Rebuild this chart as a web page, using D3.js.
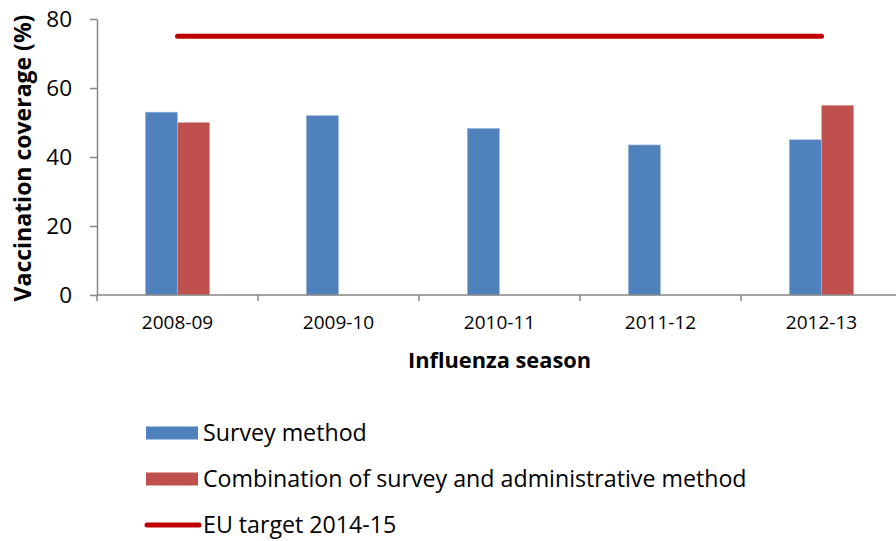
<!DOCTYPE html>
<html>
<head>
<meta charset="utf-8">
<script src="https://cdn.jsdelivr.net/npm/d3@7"></script>
<style>
  html, body { margin: 0; padding: 0; background: #fff; }
  svg { display: block; font-family: "Open Sans", Lato, sans-serif; }
</style>
</head>
<body>
<svg id="chart" width="896" height="541"></svg>
<script>
// Influenza vaccination coverage by season
const seasons = ["2008-09", "2009-10", "2010-11", "2011-12", "2012-13"];
const surveyMethod = [53, 52, 48.3, 43.5, 45];
const combinedMethod = [50, null, null, null, 55];
const euTarget = 75;
const yTicks = [0, 20, 40, 60, 80];
const seriesNames = ["Survey method", "Combination of survey and administrative method", "EU target 2014-15"];
const seriesColors = ["#4F81BD", "#C0504D", "#C00000"];

const svg = d3.select("#chart");
const plot = { left: 97, right: 902, top: 19, bottom: 295 };

const x = d3.scaleBand().domain(seasons).range([plot.left, plot.right]).paddingInner(0).paddingOuter(0);
const inner = d3.scaleBand().domain([0, 1]).range([0, x.bandwidth()]).paddingInner(0).paddingOuter(1.5);
const y = d3.scaleLinear().domain([0, 80]).range([plot.bottom, plot.top]);

const axisColor = "#868686";

// bars
const seriesData = [surveyMethod, combinedMethod];
seriesData.forEach((vals, si) => {
  svg.append("g").selectAll("rect")
    .data(seasons.map((s, i) => ({ s, v: vals[i] })).filter(d => d.v != null))
    .join("rect")
    .attr("x", d => x(d.s) + inner(si))
    .attr("y", d => y(d.v))
    .attr("width", inner.bandwidth())
    .attr("height", d => y(0) - y(d.v))
    .attr("fill", seriesColors[si])
    .attr("stroke", si === 0 ? "#A7C0DE" : "#E0A9A7")
    .attr("stroke-width", 0.6);
});

// EU target line across category centres
const centre = s => x(s) + x.bandwidth() / 2;
svg.append("line")
  .attr("x1", centre(seasons[0]))
  .attr("x2", centre(seasons[seasons.length - 1]))
  .attr("y1", y(euTarget))
  .attr("y2", y(euTarget))
  .attr("stroke", seriesColors[2])
  .attr("stroke-width", 5)
  .attr("stroke-linecap", "round");

// y axis
const yAxis = svg.append("g")
  .attr("transform", `translate(${plot.left},0)`)
  .call(d3.axisLeft(y).tickValues(yTicks).tickSize(7).tickSizeOuter(0).tickPadding(18));
yAxis.select(".domain").attr("stroke", axisColor).attr("stroke-width", 1.5);
yAxis.selectAll(".tick line").attr("stroke", axisColor).attr("stroke-width", 1.5);
yAxis.selectAll(".tick text")
  .attr("font-size", 22.5).attr("fill", "#000")
  .attr("font-family", "'Open Sans', sans-serif");

// x axis: ticks at band boundaries
const xAxisG = svg.append("g").attr("transform", `translate(0,${plot.bottom})`);
xAxisG.append("line")
  .attr("x1", plot.left).attr("x2", plot.right)
  .attr("stroke", axisColor).attr("stroke-width", 1.5);
const boundaries = seasons.map(s => x(s)).concat([plot.right]);
xAxisG.selectAll(".bt").data(boundaries).join("line")
  .attr("class", "bt")
  .attr("x1", d => d).attr("x2", d => d)
  .attr("y1", 0).attr("y2", 6)
  .attr("stroke", axisColor).attr("stroke-width", 1.5);
xAxisG.selectAll(".lbl").data(seasons).join("text")
  .attr("class", "lbl")
  .attr("x", d => centre(d))
  .attr("y", 33.5)
  .attr("text-anchor", "middle")
  .attr("font-size", 19)
  .text(d => d);

// axis titles
svg.append("text")
  .attr("x", (plot.left + plot.right) / 2)
  .attr("y", 368)
  .attr("text-anchor", "middle")
  .attr("font-size", 21.8)
  .attr("font-weight", "bold")
  .text("Influenza season");

svg.append("text")
  .attr("transform", `translate(31,${(plot.top + plot.bottom) / 2 + 1}) rotate(-90)`)
  .attr("text-anchor", "middle")
  .attr("font-size", 23)
  .attr("font-weight", "bold")
  .text("Vaccination coverage (%)");

// legend
const legend = svg.append("g");
const rowY = [433, 479, 525];
seriesNames.forEach((name, i) => {
  const g = legend.append("g").attr("transform", `translate(0,${rowY[i]})`);
  if (i < 2) {
    g.append("rect").attr("x", 146).attr("y", -6.5).attr("width", 52).attr("height", 13)
      .attr("fill", seriesColors[i]);
  } else {
    g.append("line").attr("x1", 147).attr("x2", 199).attr("y1", 0).attr("y2", 0)
      .attr("stroke", seriesColors[i]).attr("stroke-width", 5).attr("stroke-linecap", "round");
  }
  g.append("text").attr("x", 203).attr("y", 7.5).attr("font-size", 23.2).text(name);
});
</script>
</body>
</html>
